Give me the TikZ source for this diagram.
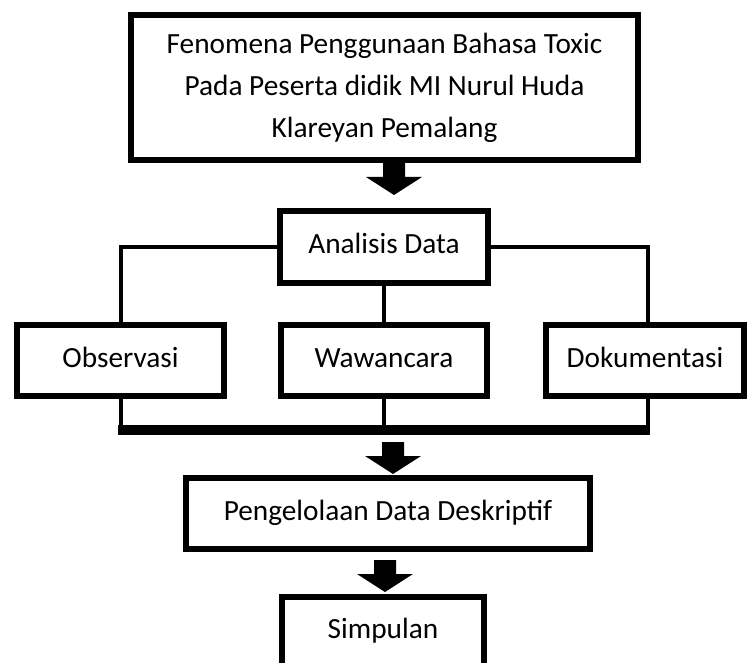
\documentclass[tikz,border=0pt]{standalone}
\usepackage{fontspec}
\setmainfont{Carlito}
\begin{document}
\begin{tikzpicture}[x=1pt,y=-1pt,
  box/.style={draw=black, line width=6pt, inner sep=0pt, fill=white,
    font=\fontsize{29.3}{42}\selectfont, text height=20pt, text depth=6pt, align=center},
  conn/.style={draw=black, line width=4pt},
  thickbar/.style={draw=black, line width=10pt},
  blockarrow/.pic={\fill[black] (-11,0) -- (11,0) -- (11,14) -- (28,14) -- (0,32) -- (-28,14) -- (-11,14) -- cycle;}]
\useasboundingbox (0,0) rectangle (747,663);
\clip (0,0) rectangle (747,663);
\fill[white] (0,0) rectangle (747,663);

% connectors first (under boxes)
\coordinate (barL) at (118,430);
\coordinate (barR) at (650,430);

\node[box, minimum width=507pt, minimum height=145pt, text height={}, text depth={}] (top) at (384.5,87.5)
  {Fenomena Penggunaan Bahasa Toxic\\Pada Peserta didik MI Nurul Huda\\Klareyan Pemalang};
\node[box, minimum width=208pt, minimum height=72pt] (ana) at (384,247) {Analisis Data};
\node[box, minimum width=207pt, minimum height=71pt] (obs) at (120.5,360.5) {Observasi};
\node[box, minimum width=206pt, minimum height=71pt] (waw) at (384,360.5) {Wawancara};
\node[box, minimum width=198pt, minimum height=71pt] (dok) at (645,360.5) {Dokumentasi};
\node[box, minimum width=404pt, minimum height=71pt] (peng) at (388,513.5) {Pengelolaan Data Deskriptif};
\node[box, minimum width=202pt, anchor=north, inner ysep=21.5pt, text depth=40pt] (simp) at (383,594) {Simpulan};

\draw[conn] (ana.west) -| (obs.north);
\draw[conn] (ana.east) -| ([xshift=3pt]dok.north);
\draw[conn] (ana.south) -- (waw.north);

\draw[conn] (obs.south) -- (obs.south |- barL);
\draw[conn] (waw.south) -- (waw.south |- barL);
\draw[conn] ([xshift=3pt]dok.south) -- ([xshift=3pt]dok.south |- barL);
\draw[thickbar] (barL) -- (barR);

\pic at (394,163) {blockarrow};
\pic at (393,442) {blockarrow};
\pic at (385,560) {blockarrow};
\end{tikzpicture}
\end{document}
